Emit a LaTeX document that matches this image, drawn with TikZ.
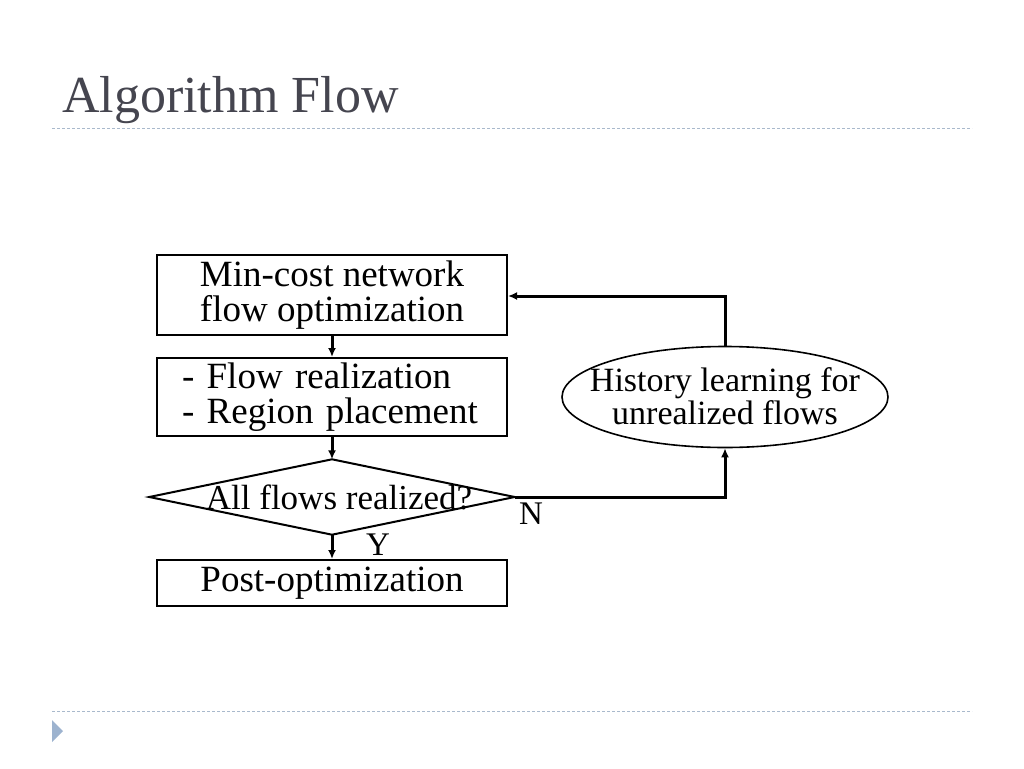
\documentclass[tikz,border=0pt]{standalone}
\usepackage{fontspec}
\setmainfont{Liberation Serif}
\usetikzlibrary{shapes.geometric,arrows.meta}
\definecolor{titlegray}{HTML}{45454F}
\definecolor{rulecol}{HTML}{A9B9CC}
\definecolor{tricol}{HTML}{9DB3CF}
\tikzset{
  box/.style={draw, line width=2pt, minimum width=350pt, inner sep=0pt, font=\fontsize{37}{35}\selectfont, align=center},
  conn/.style={line width=3pt, -{Latex[length=9pt,width=8pt]}},
  lbl/.style={font=\fontsize{33}{33}\selectfont, inner sep=0pt},
  rulel/.style={rulecol, line width=1pt, dash pattern=on 3pt off 2pt}
}
\begin{document}
\begin{tikzpicture}[x=1pt,y=-1pt]
\useasboundingbox (0,0) rectangle (1024,768);
% title and rules
\node[anchor=base west, inner sep=0pt, text=titlegray, font=\fontsize{52}{52}\selectfont] (title) at (62,112) {Algorithm Flow};
\coordinate (r1a) at (52,128); \coordinate (r1b) at (972,128);
\coordinate (r2a) at (52,711); \coordinate (r2b) at (972,711);
\draw[rulel] (r1a) -- (r1b);
\draw[rulel] (r2a) -- (r2b);
\fill[tricol] (52,720) -- (63,731) -- (52,742) -- cycle;
% boxes
\node[box, minimum height=80pt] (b1) at (332,295) {Min-cost network\\flow optimization};
\node[box, minimum height=78pt, text width=300pt, align=left] (b2) at (332,397) {- Flow realization\\- Region placement};
\node[inner sep=0pt, minimum width=365pt, minimum height=75pt] (dia) at (332,497) {};
\draw[line width=2pt] (dia.west) -- (dia.north) -- (dia.east) -- (dia.south) -- cycle;
\node[font=\fontsize{35}{35}\selectfont, inner sep=0pt] (diat) at (339,497) {All flows realized?};
\node[box, minimum height=46pt] (b3) at (332,583) {Post-optimization};
\node[draw, ellipse, line width=1.6pt, minimum width=326pt, minimum height=101pt, inner sep=0pt] (hist) at (725,397) {};
\node[font=\fontsize{34}{33}\selectfont, align=center, inner sep=0pt] (histt) at (725,396) {History learning for\\unrealized flows};
% connectors
\draw[conn] (b1.south) -- (b2.north);
\draw[conn] (b2.south) -- (dia.north);
\draw[conn] (dia.south) -- (b3.north);
\draw[conn] (dia.east) -| (hist.south);
\draw[conn] (hist.north) |- (b1.east |- 0,296);
\node[lbl] (ylab) at (378,545) {Y};
\node[lbl] (nlab) at (531,514) {N};
\end{tikzpicture}
\end{document}
